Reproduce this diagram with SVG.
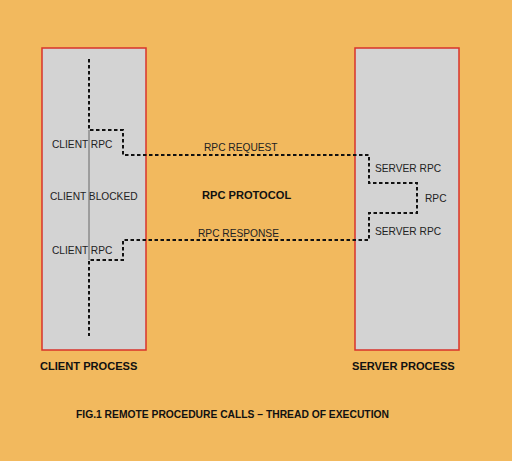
<svg xmlns="http://www.w3.org/2000/svg" width="512" height="461" viewBox="0 0 512 461">
<style>
.box{fill:#d3d3d3;stroke:#d9332b;stroke-width:1.5}
.t{font-family:"Liberation Sans",Arial,sans-serif;font-size:10.2px;fill:#222}
.b{font-family:"Liberation Sans",Arial,sans-serif;font-size:11.1px;font-weight:bold;fill:#111}
.c{font-family:"Liberation Sans",Arial,sans-serif;font-size:10.3px;font-weight:bold;fill:#111}
.dot{fill:none;stroke:#111;stroke-width:2;stroke-dasharray:3.5 2.5}
</style>
<rect width="512" height="461" fill="#f2b95e"/>
<g id="client">
<rect class="box" x="42" y="48" width="104" height="302"/>
<text class="t" x="52" y="148">CLIENT RPC</text>
<text class="t" x="50" y="200">CLIENT BLOCKED</text>
<text class="t" x="52" y="254">CLIENT RPC</text>
<text class="b" x="40" y="370">CLIENT PROCESS</text>
</g>
<g id="server">
<rect class="box" x="355" y="48" width="104" height="302"/>
<text class="t" x="375" y="172">SERVER RPC</text>
<text class="t" x="425" y="202">RPC</text>
<text class="t" x="375" y="235">SERVER RPC</text>
<text class="b" x="352" y="370">SERVER PROCESS</text>
</g>
<g id="connectors">
<line x1="89" y1="130" x2="89" y2="260" stroke="#666" stroke-width="1"/>
<polyline class="dot" points="89,59 89,130 123,130 123,155 369,155 369,183 417,183 417,213 369,213 369,240 123,240 123,260 89,260 89,336"/>
<text class="t" x="204" y="151">RPC REQUEST</text>
<text class="t" x="198" y="237">RPC RESPONSE</text>
</g>
<g id="labels">
<text class="b" x="202" y="199">RPC PROTOCOL</text>
<text class="c" x="76" y="418">FIG.1 REMOTE PROCEDURE CALLS – THREAD OF EXECUTION</text>
</g>
</svg>
